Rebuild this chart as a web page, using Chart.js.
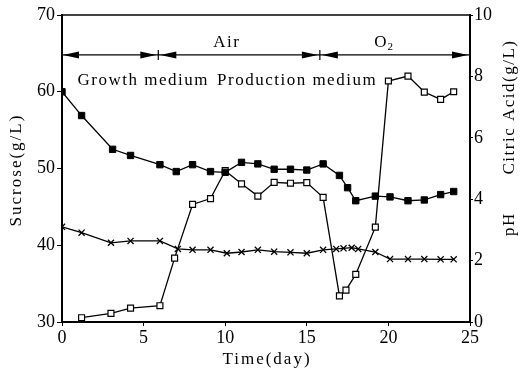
<!DOCTYPE html>
<html>
<head>
<meta charset="utf-8">
<script src="https://cdn.jsdelivr.net/npm/chart.js@4"></script>
<style>
  body { margin: 0; background: #fff; }
</style>
</head>
<body>
<canvas id="chart" width="521" height="371"></canvas>
<script>
// sucrose (g/L), left axis
const sucroseDays = [0, 1.2, 3.1, 4.2, 6, 7, 8, 9.1, 10, 11, 12, 13, 14, 15, 16, 17, 17.5, 18, 19.2, 20.1, 21.2, 22.2, 23.2, 24];
const sucrose = [60, 56.9, 52.5, 51.7, 50.5, 49.6, 50.5, 49.6, 49.5, 50.8, 50.6, 49.9, 49.9, 49.8, 50.6, 49.1, 47.5, 45.8, 46.4, 46.3, 45.8, 45.9, 46.6, 47.0];

// citric acid (g/L), right axis
const citricDays = [1.2, 3, 4.2, 6, 6.9, 8, 9.1, 10, 11, 12, 13, 14, 15, 16, 17, 17.4, 18, 19.2, 20, 21.2, 22.2, 23.2, 24];
const citric = [0.14, 0.28, 0.45, 0.53, 2.08, 3.83, 4.02, 4.93, 4.5, 4.1, 4.55, 4.52, 4.54, 4.06, 0.85, 1.04, 1.55, 3.09, 7.85, 8.01, 7.49, 7.25, 7.5];

// pH, right axis
const phDays = [0, 1.2, 3, 4.2, 6, 7.1, 8, 9.1, 10.1, 11, 12, 13, 14, 15, 16, 16.8, 17.25, 17.75, 18.15, 19.2, 20.1, 21.2, 22.2, 23.2, 24];
const ph = [3.1, 2.91, 2.58, 2.64, 2.64, 2.38, 2.35, 2.35, 2.24, 2.28, 2.35, 2.29, 2.27, 2.24, 2.35, 2.38, 2.4, 2.42, 2.38, 2.28, 2.05, 2.05, 2.05, 2.04, 2.04];

// phase boundaries (day) for the arrows at the top
const phaseEdges = [0, 5.9, 15.8, 25];

const serif = 'Liberation Serif';

const toPoints = (xs, ys) => xs.map((x, i) => ({ x: x, y: ys[i] }));

const tickFont = { family: serif, size: 18 };

// axis titles, arrows and phase labels
const annotations = {
    id: 'annotations',
    afterDraw(chart) {
        const ctx = chart.ctx;
        const area = chart.chartArea;
        const xs = chart.scales.x;
        const yl = chart.scales.y;

        ctx.save();
        ctx.strokeStyle = '#000';
        ctx.fillStyle = '#000';

        // top frame line
        ctx.lineWidth = 1.6;
        ctx.beginPath();
        ctx.moveTo(area.left, area.top);
        ctx.lineTo(area.right, area.top);
        ctx.stroke();

        // phase arrows
        const ay = yl.getPixelForValue(64.8);
        ctx.lineWidth = 1.3;
        ctx.beginPath();
        ctx.moveTo(xs.getPixelForValue(phaseEdges[0]), ay);
        ctx.lineTo(xs.getPixelForValue(phaseEdges[3]), ay);
        ctx.stroke();

        const head = (x, dir) => {
            ctx.beginPath();
            ctx.moveTo(x, ay);
            ctx.lineTo(x - dir * 16, ay - 3.5);
            ctx.lineTo(x - dir * 16, ay + 3.5);
            ctx.closePath();
            ctx.fill();
        };
        for (let i = 0; i < phaseEdges.length - 1; i++) {
            const a = xs.getPixelForValue(phaseEdges[i]) + (i === 0 ? 1 : 2);
            const b = xs.getPixelForValue(phaseEdges[i + 1]) - 2;
            head(a, -1);
            head(b, 1);
        }
        ctx.lineWidth = 1.2;
        [phaseEdges[1], phaseEdges[2]].forEach(d => {
            const x = xs.getPixelForValue(d);
            ctx.beginPath();
            ctx.moveTo(x, ay - 5);
            ctx.lineTo(x, ay + 5);
            ctx.stroke();
        });

        ctx.letterSpacing = '1.5px';
        ctx.textBaseline = 'middle';

        // labels
        ctx.font = '17px "' + serif + '"';
        ctx.textAlign = 'center';
        ctx.fillText('Air', xs.getPixelForValue(10.1), yl.getPixelForValue(66.4));
        const ox = xs.getPixelForValue(19.55);
        const oy = yl.getPixelForValue(66.4);
        ctx.fillText('O', ox, oy);
        ctx.font = '11px "' + serif + '"';
        ctx.fillText('2', ox + 10, oy + 4);

        ctx.font = '17px "' + serif + '"';
        ctx.textAlign = 'left';
        ctx.fillText('Growth medium', xs.getPixelForValue(0.95), yl.getPixelForValue(61.5));
        ctx.fillText('Production medium', xs.getPixelForValue(9.5), yl.getPixelForValue(61.5));

        // axis titles
        ctx.textAlign = 'center';
        ctx.letterSpacing = '2px';
        ctx.fillText('Time(day)', 267, 360);

        ctx.translate(17, 170);
        ctx.rotate(-Math.PI / 2);
        ctx.fillText('Sucrose(g/L)', 0, 0);
        ctx.restore();

        ctx.save();
        ctx.fillStyle = '#000';
        ctx.font = '17px "' + serif + '"';
        ctx.textAlign = 'center';
        ctx.textBaseline = 'middle';
        ctx.letterSpacing = '1.5px';
        ctx.translate(510, 107);
        ctx.rotate(-Math.PI / 2);
        ctx.fillText('Citric Acid(g/L)', 0, 0);
        ctx.fillText('pH', -117, 0);
        ctx.restore();
    }
};

new Chart(document.getElementById('chart'), {
    type: 'line',
    data: {
        datasets: [
            {
                label: 'Sucrose',
                data: toPoints(sucroseDays, sucrose),
                yAxisID: 'y',
                borderColor: '#000',
                borderWidth: 1.3,
                pointStyle: 'rect',
                pointRadius: 4.5,
                pointBackgroundColor: '#000',
                pointBorderColor: '#000',
                pointBorderWidth: 1,
            },
            {
                label: 'Citric Acid',
                data: toPoints(citricDays, citric),
                yAxisID: 'y1',
                borderColor: '#000',
                borderWidth: 1.3,
                pointStyle: 'rect',
                pointRadius: 4.2,
                pointBackgroundColor: '#fff',
                pointBorderColor: '#000',
                pointBorderWidth: 1.2,
            },
            {
                label: 'pH',
                data: toPoints(phDays, ph),
                yAxisID: 'y1',
                borderColor: '#000',
                borderWidth: 1.3,
                pointStyle: 'crossRot',
                pointRadius: 4.3,
                pointBorderColor: '#000',
                pointBorderWidth: 1.3,
            },
        ],
    },
    options: {
        responsive: false,
        animation: false,
        layout: { padding: { top: 15, left: 0, right: 0, bottom: 0 } },
        plugins: {
            legend: { display: false },
            tooltip: { enabled: false },
        },
        scales: {
            x: {
                type: 'linear',
                min: 0,
                max: 25,
                ticks: { stepSize: 5, color: '#000', font: tickFont, padding: 1, maxRotation: 0 },
                grid: { drawOnChartArea: false, drawTicks: true, tickLength: 4, color: '#000' },
                border: { color: '#000', width: 2 },
                afterFit: s => { s.height = 49; },
            },
            y: {
                position: 'left',
                min: 30,
                max: 70,
                ticks: { stepSize: 10, color: '#000', font: tickFont, padding: 2 },
                grid: { drawOnChartArea: false, drawTicks: true, tickLength: 5, color: '#000' },
                border: { color: '#000', width: 2 },
                afterFit: s => { s.width = 62; },
            },
            y1: {
                position: 'right',
                min: 0,
                max: 10,
                ticks: { stepSize: 2, color: '#000', font: tickFont, padding: 1 },
                grid: { drawOnChartArea: false, drawTicks: true, tickLength: 3, color: '#000' },
                border: { color: '#000', width: 2 },
                afterFit: s => { s.width = 51; },
            },
        },
    },
    plugins: [annotations],
});
</script>
</body>
</html>
